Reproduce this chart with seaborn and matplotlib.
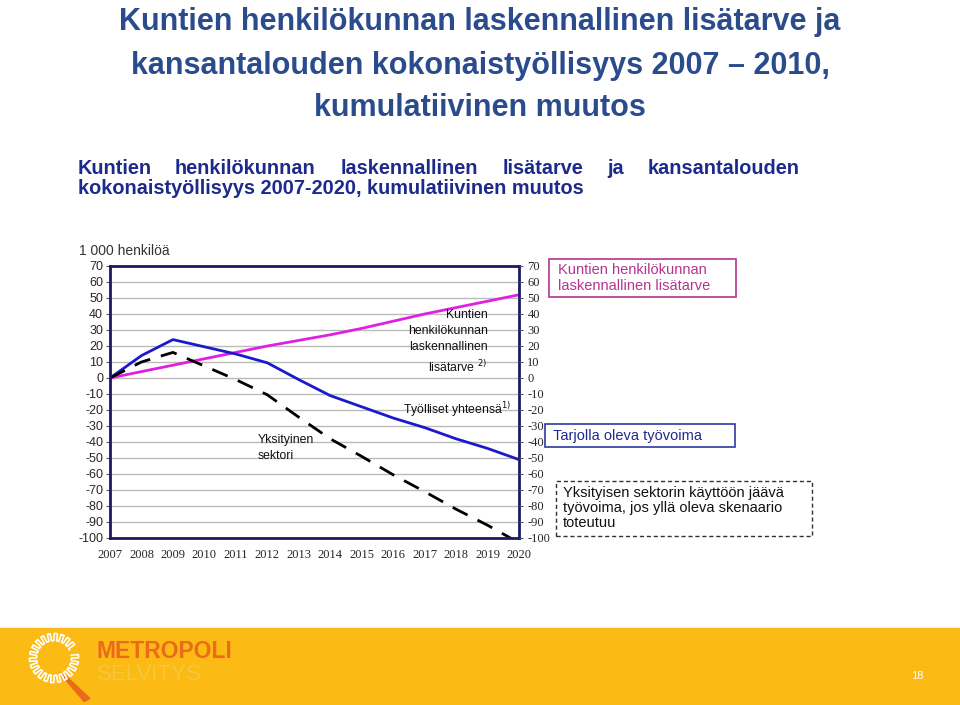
import numpy as np
import pandas as pd
import matplotlib
matplotlib.use("Agg")
import matplotlib.pyplot as plt
import seaborn as sns
from matplotlib.patches import Rectangle, Polygon

# data (1 000 henkilöä, kumulatiivinen muutos vuodesta 2007)
vuodet = list(range(2007, 2021))
kuntien_lisatarve = [0, 4, 8, 12, 16, 20, 23.5, 27, 31, 35.5, 40, 44, 48, 52]
tyolliset_yhteensa = [0, 14, 24, 19.5, 15, 9.5, -1, -11, -18, -25, -31, -38, -44, -51]
yksityinen_sektori = [0, 10, 16, 7.5, -1, -10.5, -24.5, -38, -49, -60.5, -71, -82, -92, -103]
y_ticks = list(range(70, -101, -10))

sns.set_style("white")
plt.rcParams['font.family'] = ['Liberation Sans', 'DejaVu Sans']
plt.rcParams['axes.unicode_minus'] = False

fig = plt.figure(figsize=(9.6, 7.05), dpi=100)

def fx(px):
    return px / 960

def fy(py):
    return 1 - py / 705

title_col = "#2B4C8C"
navy = "#1C2A8C"

# page title
fig.text(0.5, fy(22), "Kuntien henkilökunnan laskennallinen lisätarve ja", ha="center", va="center",
         fontsize=22, fontweight="bold", color=title_col)
fig.text(0.5, fy(66), "kansantalouden kokonaistyöllisyys 2007 – 2010,", ha="center", va="center",
         fontsize=22, fontweight="bold", color=title_col)
fig.text(0.5, fy(108), "kumulatiivinen muutos", ha="center", va="center",
         fontsize=22, fontweight="bold", color=title_col)

# chart heading (justified first line)
words = ["Kuntien", "henkilökunnan", "laskennallinen", "lisätarve", "ja", "kansantalouden"]
word_x = [78, 175, 341, 503, 607, 648]
for w, x in zip(words, word_x):
    fig.text(fx(x), fy(168), w, ha="left", va="center", fontsize=14.3, fontweight="bold", color=navy)
fig.text(fx(78), fy(188), "kokonaistyöllisyys 2007-2020, kumulatiivinen muutos", ha="left", va="center",
         fontsize=14.3, fontweight="bold", color=navy)
fig.text(fx(79), fy(251), "1 000 henkilöä", ha="left", va="center", fontsize=10, color="#333333")

# chart
ax = fig.add_axes([fx(110), fy(538), fx(519 - 110), (538 - 266) / 705])
df = pd.DataFrame({
    "vuosi": vuodet * 3,
    "arvo": kuntien_lisatarve + tyolliset_yhteensa + yksityinen_sektori,
    "sarja": ["kunnat"] * 14 + ["yhteensa"] * 14 + ["yksityinen"] * 14,
})
sns.lineplot(data=df[df.sarja == "kunnat"], x="vuosi", y="arvo", color="#E020E0", lw=2, ax=ax)
sns.lineplot(data=df[df.sarja == "yhteensa"], x="vuosi", y="arvo", color="#1A1ACC", lw=2, ax=ax)
sns.lineplot(data=df[df.sarja == "yksityinen"], x="vuosi", y="arvo", color="black", lw=2,
             dashes=False, ax=ax, linestyle=(0, (6, 4)))
ax.set_xlim(2007, 2020)
ax.set_ylim(-100, 70)
ax.set_yticks(y_ticks)
ax.set_xticks(vuodet)
ax.set_xlabel("")
ax.set_ylabel("")
ax.grid(axis="y", color="#BBBBBB", lw=1)
ax.set_axisbelow(True)
for s in ax.spines.values():
    s.set_color("#1A1A66")
    s.set_linewidth(2)
ax.tick_params(axis="y", length=3, width=0.8, color="#555555", labelsize=9, pad=2)
ax.tick_params(axis="x", length=0, labelsize=9, pad=8)
for lab in ax.get_xticklabels():
    lab.set_family("Liberation Serif")
ax.get_legend() and ax.get_legend().remove()

ax2 = ax.twinx()
ax2.set_ylim(-100, 70)
ax2.set_yticks(y_ticks)
ax2.tick_params(axis="y", length=3, width=0.8, color="#555555", labelsize=9, pad=3)
for lab in ax2.get_yticklabels():
    lab.set_family("Liberation Serif")
for s in ax2.spines.values():
    s.set_visible(False)

# in-chart labels
ax.text(2019.0, 43, "Kuntien\nhenkilökunnan\nlaskennallinen\nlisätarve $^{2)}$", ha="right", va="top",
        fontsize=8.8, linespacing=1.45, color="#111111")
ax.text(2016.3, -20, "Työlliset yhteensä$^{1)}$", ha="left", va="center", fontsize=8.8, color="#111111")
ax.text(2011.7, -35, "Yksityinen\nsektori", ha="left", va="top", fontsize=8.8, linespacing=1.4,
        color="#111111")

# explanation boxes on the right
fig.patches.append(Rectangle((fx(549), fy(297)), fx(736 - 549), (297 - 259) / 705, transform=fig.transFigure,
                             fill=False, ec="#B5348F", lw=1.2))
fig.text(fx(558), fy(278), "Kuntien henkilökunnan\nlaskennallinen lisätarve", ha="left", va="center",
         fontsize=10.5, color="#B5348F", linespacing=1.1)
fig.patches.append(Rectangle((fx(545), fy(447)), fx(735 - 545), (447 - 424) / 705, transform=fig.transFigure,
                             fill=False, ec="#2D3A9E", lw=1.2))
fig.text(fx(553), fy(436), "Tarjolla oleva työvoima", ha="left", va="center", fontsize=10.5, color="#1F2A8F")
fig.patches.append(Rectangle((fx(556), fy(536)), fx(812 - 556), (536 - 481) / 705, transform=fig.transFigure,
                             fill=False, ec="#333333", lw=1, ls=(0, (3, 2))))
fig.text(fx(563), fy(508), "Yksityisen sektorin käyttöön jäävä\ntyövoima, jos yllä oleva skenaario\ntoteutuu",
         ha="left", va="center", fontsize=10.5, color="#111111", linespacing=1.1)

# footer band
fig.patches.append(Rectangle((0, 0), 1, fy(628), transform=fig.transFigure, color="#FBBA14", zorder=-5))
fig.text(fx(97), fy(652), "METROPOLI", ha="left", va="center", fontsize=16.5, fontweight="bold", color="#EC6A1C")
fig.text(fx(97), fy(674), "SELVITYS", ha="left", va="center", fontsize=16, color="#F7C63A")
fig.text(fx(917), fy(676), "18", ha="center", va="center", fontsize=8, color="white")

# logo: zigzag ring and pencil
lax = fig.add_axes([fx(24), fy(703), fx(75), 75 / 705], zorder=3)
lax.set_xlim(-1, 1.5)
lax.set_ylim(-1.5, 1)
lax.set_aspect("equal")
lax.axis("off")
t = np.linspace(0.15 * np.pi, 2.05 * np.pi, 400)
r = 0.7 + 0.12 * np.sign(np.sin(t * 22))
lax.plot(r * np.cos(t), r * np.sin(t), color="white", lw=1.2)
lax.add_patch(Polygon([[0.2, -0.5], [0.45, -0.65], [1.2, -1.35], [1.0, -1.45]], closed=True, color="#EC6A1C"))

fig.savefig("out.png", dpi=100)
